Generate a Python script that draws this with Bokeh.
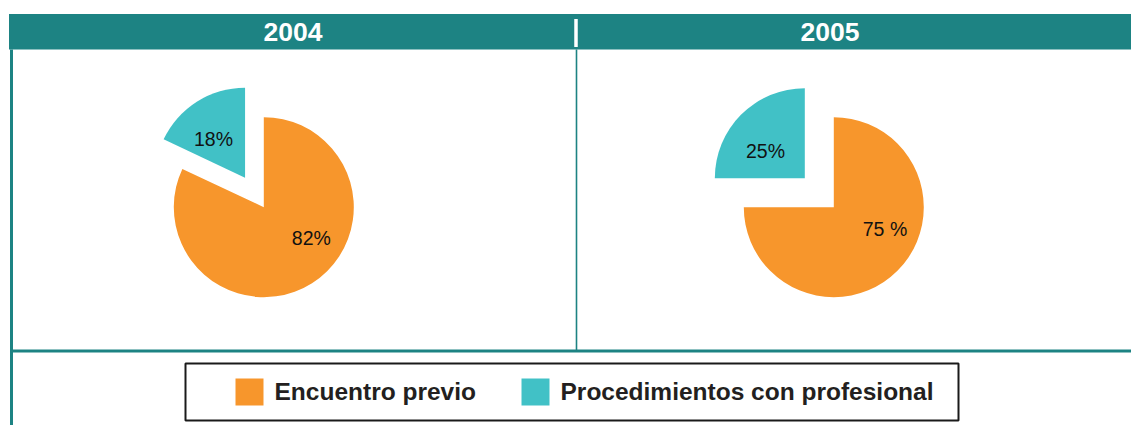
import numpy as np
from bokeh.plotting import figure
from bokeh.models import Range1d
from bokeh.core.properties import value
from bokeh.embed import file_html
from bokeh.resources import INLINE

# ---------------- data ----------------
years = ["2004", "2005"]
categories = ["Encuentro previo", "Procedimientos con profesional"]
share_2004 = [82, 18]
share_2005 = [75, 25]
labels_2004 = ["82%", "18%"]
labels_2005 = ["75 %", "25%"]

# ---------------- style ----------------
COLORS = ["#F7962C", "#41C1C6"]
TEAL_DARK = "#1D8383"
FONT = value("Liberation Sans")
W, H = 1131, 425


def Y(s):
    """screen y (px from window top) -> data y"""
    return 425 - s


p = figure(width=W, height=H, x_range=Range1d(0, W), y_range=Range1d(0, H),
           output_backend="svg", toolbar_location=None, min_border=0,
           x_axis_type=None, y_axis_type=None)
p.grid.visible = False
p.outline_line_color = None
p.background_fill_color = "white"
p.border_fill_color = "white"

# header band
p.quad(left=[8.5], right=[1135], top=[Y(13.5)], bottom=[Y(49)], fill_color=TEAL_DARK, line_color=None)
# white divider in the header
p.segment(x0=[575.5], y0=[Y(18.5)], x1=[575.5], y1=[Y(46.5)], line_color="white", line_width=3.5)
# panel frame lines
p.segment(x0=[11], y0=[Y(49)], x1=[11], y1=[Y(430)], line_color=TEAL_DARK, line_width=3)
p.segment(x0=[576], y0=[Y(49)], x1=[576], y1=[Y(350)], line_color=TEAL_DARK, line_width=1.6)
p.segment(x0=[10], y0=[Y(350.5)], x1=[1135], y1=[Y(350.5)], line_color=TEAL_DARK, line_width=3)

# header titles
title_x = [292.5, 829.5]
p.text(x=title_x, y=[Y(41 - 9.5)] * 2, text=years, text_font=FONT, text_font_size="26.5px",
       text_font_style="bold", text_color="white", text_align="center", text_baseline="alphabetic")

# ---------------- pies ----------------
centers = [(263.3, 206.7), (833.3, 206.7)]       # screen px of the main slice centre
explode = [0, 35], [0, 41]
radius = 90
label_off = [[(47.5, 39.0 - 8), (-50.3, -60.0 - 8)],      # (dx, baseline dy) in screen px
             [(51.2, 29.3 - 8), (-68.3, -48.4 - 8)]]

for k, (shares, labels) in enumerate([(share_2004, labels_2004), (share_2005, labels_2005)]):
    cx, cy = centers[k]
    cum = np.cumsum([0] + shares) / 100.0 * 360.0
    for i, v in enumerate(shares):
        end = np.deg2rad(90 - cum[i])          # clockwise from 12 o'clock
        start = np.deg2rad(90 - cum[i + 1])
        mid = (start + end) / 2
        off = explode[k][i]
        x = cx + off * np.cos(mid)
        y = Y(cy) + off * np.sin(mid)
        p.wedge(x=[x], y=[y], radius=radius, start_angle=start, end_angle=end,
                direction="anticlock", fill_color=COLORS[i], line_color=None)
        dx, dy = label_off[k][i]
        p.text(x=[cx + dx], y=[Y(cy + dy)], text=[labels[i]], text_font=FONT,
               text_font_size="19.5px", text_color="#111111", text_align="center",
               text_baseline="alphabetic")

# ---------------- legend ----------------
p.quad(left=[185], right=[958], top=[Y(363)], bottom=[Y(420)], fill_color="white",
       line_color="#1a1a1a", line_width=2)
sw_left = [235, 521]
txt_left = [274, 560]
for i, c in enumerate(categories):
    p.quad(left=[sw_left[i]], right=[sw_left[i] + 28], top=[Y(378)], bottom=[Y(405)],
           fill_color=COLORS[i], line_color=None)
    p.text(x=[txt_left[i]], y=[Y(400 - 9)], text=[c], text_font=FONT, text_font_size="24.5px",
           text_font_style="bold", text_color="#231F20", text_align="left", text_baseline="alphabetic")

open("out.html", "w").write(file_html(p, INLINE))
